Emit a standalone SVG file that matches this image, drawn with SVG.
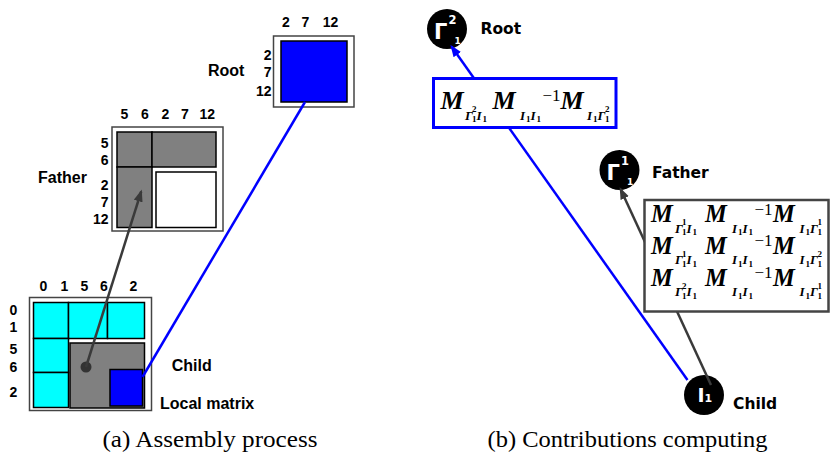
<svg xmlns="http://www.w3.org/2000/svg" width="830" height="455" viewBox="0 0 830 455">
  <style>
    .lbl { font-family: "Liberation Sans", Arial, sans-serif; font-weight: bold; font-size: 16px; fill: #000; }
    .num { font-family: "Liberation Sans", Arial, sans-serif; font-weight: bold; font-size: 14px; fill: #000; text-anchor: middle; }
    .numr { font-family: "Liberation Sans", Arial, sans-serif; font-weight: bold; font-size: 14px; fill: #000; text-anchor: end; }
    .nlbl { font-family: "DejaVu Sans", sans-serif; font-weight: bold; font-size: 15.5px; fill: #000; }
    .ng { font-family: "DejaVu Sans", sans-serif; font-weight: bold; fill: #fff; }
    .cap { font-family: "Liberation Serif", "Times New Roman", serif; font-size: 23px; fill: #000; }
    .mM { font-family: "Liberation Serif", "Times New Roman", serif; font-weight: bold; font-style: italic; font-size: 26px; fill: #000; }
    .row .mM { font-size: 24.5px; }
    .ms { font-family: "Liberation Serif", "Times New Roman", serif; font-weight: bold; font-style: italic; font-size: 13px; fill: #000; }
    .mt { font-family: "Liberation Serif", "Times New Roman", serif; font-weight: bold; font-size: 9px; fill: #000; }
    .mp { font-family: "Liberation Serif", "Times New Roman", serif; font-size: 17px; fill: #000; }
    .cell { stroke: #000; stroke-width: 1.5; }
    .cyan { fill: #00ffff; }
    .gray { fill: #808080; }
    .blue { fill: #0000ff; }
    .frame { fill: #fff; stroke: #444; stroke-width: 1.5; }
    .node { fill: #000; }
    .eblue { stroke: #0000ff; stroke-width: 2.5; fill: none; }
    .edark { stroke: #3a3a3a; stroke-width: 2.5; fill: none; }
  </style>
  <defs>
    <marker id="arrowBlue" markerUnits="userSpaceOnUse" markerWidth="13" markerHeight="10" refX="10" refY="4.5" orient="auto">
      <path d="M0,0 L12,4.5 L0,9 Z" fill="#0000ff"/>
    </marker>
    <marker id="arrowDark" markerUnits="userSpaceOnUse" markerWidth="13" markerHeight="10" refX="10" refY="4.5" orient="auto">
      <path d="M0,0 L12,4.5 L0,9 Z" fill="#3a3a3a"/>
    </marker>
  </defs>

  <rect width="830" height="455" fill="#fff"/>

  <!-- (a) assembly: root matrix -->
  <g id="root-matrix">
    <text class="num" x="286" y="26.5">2</text>
    <text class="num" x="305.5" y="26.5">7</text>
    <text class="num" x="330.5" y="26.5">12</text>
    <text class="numr" x="271.5" y="60">2</text>
    <text class="numr" x="271.5" y="77">7</text>
    <text class="numr" x="271.5" y="96">12</text>
    <text class="lbl" x="208" y="76">Root</text>
    <rect class="frame" x="273.5" y="36" width="80.5" height="71"/>
    <rect class="cell blue" x="281" y="41" width="66" height="61"/>
  </g>

  <!-- (a) assembly: father matrix -->
  <g id="father-matrix">
    <text class="num" x="124.3" y="119.3">5</text>
    <text class="num" x="145" y="119.3">6</text>
    <text class="num" x="165.3" y="119.3">2</text>
    <text class="num" x="185" y="119.3">7</text>
    <text class="num" x="207.3" y="119.3">12</text>
    <text class="numr" x="108.5" y="148.3">5</text>
    <text class="numr" x="108.5" y="165">6</text>
    <text class="numr" x="108.5" y="190">2</text>
    <text class="numr" x="108.5" y="206.7">7</text>
    <text class="numr" x="108.5" y="224">12</text>
    <text class="lbl" x="38" y="183">Father</text>
    <rect class="frame" x="112" y="127" width="111" height="104"/>
    <rect class="cell gray" x="117" y="132" width="35" height="35"/>
    <rect class="cell gray" x="152" y="132" width="64" height="35"/>
    <rect class="cell gray" x="117" y="167" width="35" height="60.5"/>
    <rect class="cell" fill="#fff" x="156" y="172" width="60" height="55.5"/>
  </g>

  <!-- (a) assembly: child matrix with its local block -->
  <g id="child-matrix">
    <text class="num" x="43.3" y="290.7">0</text>
    <text class="num" x="64.3" y="290.7">1</text>
    <text class="num" x="84.3" y="290.7">5</text>
    <text class="num" x="104" y="290.7">6</text>
    <text class="num" x="133.3" y="290.7">2</text>
    <text class="num" x="13.5" y="315">0</text>
    <text class="num" x="13.5" y="332.3">1</text>
    <text class="num" x="13.5" y="354.3">5</text>
    <text class="num" x="13.5" y="371.7">6</text>
    <text class="num" x="13.5" y="396.7">2</text>
    <text class="lbl" x="171.7" y="370.7">Child</text>
    <text class="lbl" x="160" y="409.3">Local matrix</text>
    <rect class="frame" x="29.5" y="297.5" width="122" height="113"/>
    <rect class="cell cyan" x="33.5" y="302.5" width="35" height="36"/>
    <rect class="cell cyan" x="68.5" y="302.5" width="39" height="36"/>
    <rect class="cell cyan" x="107.5" y="302.5" width="37" height="36"/>
    <rect class="cell cyan" x="33.5" y="338.5" width="35" height="34"/>
    <rect class="cell cyan" x="33.5" y="372.5" width="35" height="35"/>
    <rect class="cell gray" x="70" y="343" width="74.5" height="65"/>
    <rect class="cell blue" x="110" y="369.5" width="32.5" height="36.5"/>
    <circle cx="86" cy="367" r="5.5" fill="#333"/>
  </g>

  <!-- (b) contributions: tree nodes -->
  <g id="node-root">
    <circle class="node" cx="447" cy="29" r="20"/>
    <text class="ng" x="434" y="38.5" font-size="21">Γ</text>
    <text class="ng" x="448.5" y="23.5" font-size="11.5">2</text>
    <text class="ng" x="454.5" y="43.5" font-size="9">1</text>
    <text class="nlbl" x="480.5" y="33.5">Root</text>
  </g>
  <g id="node-father">
    <circle class="node" cx="619.5" cy="170" r="20"/>
    <text class="ng" x="606.5" y="179.5" font-size="21">Γ</text>
    <text class="ng" x="621" y="164.5" font-size="11.5">1</text>
    <text class="ng" x="627" y="184.5" font-size="9">1</text>
    <text class="nlbl" x="652" y="177.5">Father</text>
  </g>
  <g id="node-child">
    <circle class="node" cx="704" cy="395" r="20"/>
    <text class="ng" x="697.5" y="402" font-size="19">I</text>
    <text class="ng" x="704.5" y="402" font-size="11">1</text>
    <text class="nlbl" x="733" y="408.5">Child</text>
  </g>

  <!-- connectors and their formula boxes -->
  <g id="connectors">
    <line class="edark" x1="86" y1="367" x2="141.2" y2="191.5" marker-end="url(#arrowDark)"/>
    <line class="eblue" x1="142.5" y1="377" x2="305" y2="102"/>
    <line class="eblue" x1="687.5" y1="380" x2="451.5" y2="46.5" marker-end="url(#arrowBlue)"/>
    <line class="edark" x1="711" y1="385" x2="620.5" y2="189" marker-end="url(#arrowDark)"/>

    <!-- child to root: M_{Γ1²I1} M_{I1I1}^-1 M_{I1Γ1²} -->
    <rect x="433.5" y="78.5" width="182.5" height="49" fill="#fff" stroke="#0000ff" stroke-width="3"/>
    <g transform="translate(440.5,108.5)">
      <text class="mM" x="0" y="0">M</text>
      <text class="ms" x="24.5" y="11">Γ</text><text class="mt" x="31.5" y="3">2</text><text class="mt" x="31.5" y="13.5">1</text>
      <text class="ms" x="36" y="11">I</text><text class="mt" x="42" y="13.5">1</text>
      <text class="mM" x="52" y="0">M</text>
      <text class="ms" x="79.5" y="11">I</text><text class="mt" x="85.5" y="13.5">1</text>
      <text class="ms" x="90" y="11">I</text><text class="mt" x="96" y="13.5">1</text>
      <text class="mp" x="102" y="-8">−1</text>
      <text class="mM" x="120" y="0">M</text>
      <text class="ms" x="146.5" y="11">I</text><text class="mt" x="152.5" y="13.5">1</text>
      <text class="ms" x="157" y="11">Γ</text><text class="mt" x="164.5" y="3">2</text><text class="mt" x="164.5" y="13.5">1</text>
    </g>

    <!-- child to father: three products -->
    <rect x="644.5" y="200" width="184" height="111.5" fill="#fff" stroke="#444" stroke-width="2.5"/>
    <g class="row" transform="translate(651,222)">
      <text class="mM" x="0" y="0">M</text>
      <text class="ms" x="24" y="10.5">Γ</text><text class="mt" x="31" y="3">1</text><text class="mt" x="31" y="13">1</text>
      <text class="ms" x="35.5" y="10.5">I</text><text class="mt" x="41.5" y="13">1</text>
      <text class="mM" x="54" y="0">M</text>
      <text class="ms" x="81" y="10.5">I</text><text class="mt" x="87" y="13">1</text>
      <text class="ms" x="91.5" y="10.5">I</text><text class="mt" x="97.5" y="13">1</text>
      <text class="mp" x="103.5" y="-7.5">−1</text>
      <text class="mM" x="122" y="0">M</text>
      <text class="ms" x="148.5" y="10.5">I</text><text class="mt" x="154.5" y="13">1</text>
      <text class="ms" x="159" y="10.5">Γ</text><text class="mt" x="166.5" y="3">1</text><text class="mt" x="166.5" y="13">1</text>
    </g>
    <g class="row" transform="translate(651,253.5)">
      <text class="mM" x="0" y="0">M</text>
      <text class="ms" x="24" y="10.5">Γ</text><text class="mt" x="31" y="3">1</text><text class="mt" x="31" y="13">1</text>
      <text class="ms" x="35.5" y="10.5">I</text><text class="mt" x="41.5" y="13">1</text>
      <text class="mM" x="54" y="0">M</text>
      <text class="ms" x="81" y="10.5">I</text><text class="mt" x="87" y="13">1</text>
      <text class="ms" x="91.5" y="10.5">I</text><text class="mt" x="97.5" y="13">1</text>
      <text class="mp" x="103.5" y="-7.5">−1</text>
      <text class="mM" x="122" y="0">M</text>
      <text class="ms" x="148.5" y="10.5">I</text><text class="mt" x="154.5" y="13">1</text>
      <text class="ms" x="159" y="10.5">Γ</text><text class="mt" x="166.5" y="3">2</text><text class="mt" x="166.5" y="13">1</text>
    </g>
    <g class="row" transform="translate(651,285.5)">
      <text class="mM" x="0" y="0">M</text>
      <text class="ms" x="24" y="10.5">Γ</text><text class="mt" x="31" y="3">2</text><text class="mt" x="31" y="13">1</text>
      <text class="ms" x="35.5" y="10.5">I</text><text class="mt" x="41.5" y="13">1</text>
      <text class="mM" x="54" y="0">M</text>
      <text class="ms" x="81" y="10.5">I</text><text class="mt" x="87" y="13">1</text>
      <text class="ms" x="91.5" y="10.5">I</text><text class="mt" x="97.5" y="13">1</text>
      <text class="mp" x="103.5" y="-7.5">−1</text>
      <text class="mM" x="122" y="0">M</text>
      <text class="ms" x="148.5" y="10.5">I</text><text class="mt" x="154.5" y="13">1</text>
      <text class="ms" x="159" y="10.5">Γ</text><text class="mt" x="166.5" y="3">1</text><text class="mt" x="166.5" y="13">1</text>
    </g>
  </g>

  <!-- sub-figure captions -->
  <text class="cap" x="102.5" y="446.5" textLength="215" lengthAdjust="spacingAndGlyphs">(a)  Assembly process</text>
  <text class="cap" x="487.5" y="446.5" textLength="280" lengthAdjust="spacingAndGlyphs">(b) Contributions computing</text>
</svg>
